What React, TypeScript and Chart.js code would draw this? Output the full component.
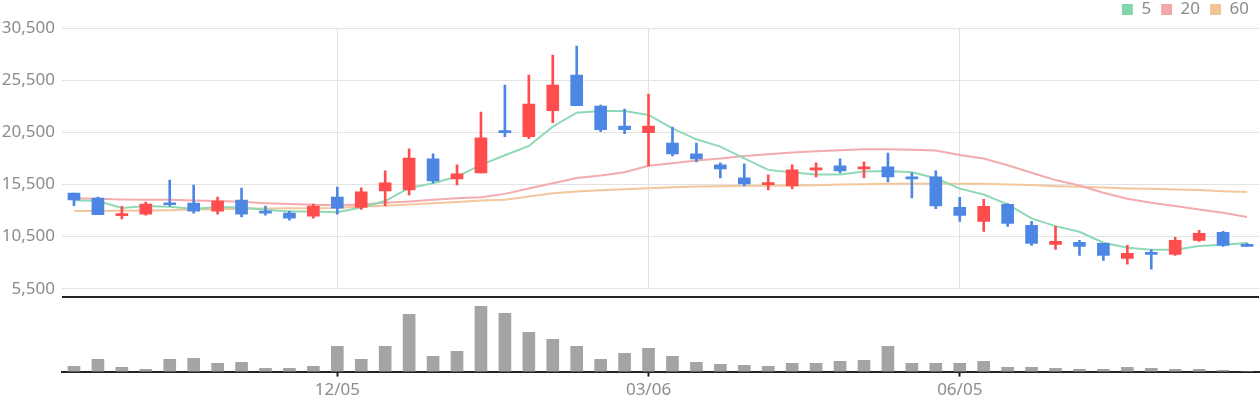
import React, { useEffect, useRef } from "react";
import { Chart, registerables } from "chart.js";

Chart.register(...registerables);

// ---- data ----
const categories = [
  "09/19", "09/26", "10/03", "10/10", "10/17", "10/24", "10/31", "11/07", "11/14", "11/21",
  "11/28", "12/05", "12/12", "12/19", "12/26", "01/02", "01/09", "01/16", "01/23", "01/30",
  "02/06", "02/13", "02/20", "02/27", "03/06", "03/13", "03/20", "03/27", "04/03", "04/10",
  "04/17", "04/24", "05/01", "05/08", "05/15", "05/22", "05/29", "06/05", "06/12", "06/19",
  "06/26", "07/03", "07/10", "07/17", "07/24", "07/31", "08/07", "08/14", "08/21", "08/28",
];
const tickLabels = ["12/05", "03/06", "06/05"];

const opens = [
  14670, 14190, 12520, 12660, 13700, 13710, 12950, 14000, 12950, 12760,
  12470, 14290, 13290, 14890, 14980, 17950, 16040, 16610, 20660, 20090,
  22570, 25990, 23020, 21110, 20470, 19480, 18430, 17380, 16130, 15490,
  15370, 16900, 17280, 16990, 17180, 16230, 16230, 13300, 11960, 13590,
  11580, 9760, 9950, 9860, 8420, 8990, 8800, 10140, 10910, 9760,
];
const highs = [
  14670, 14290, 13400, 13810, 15920, 15440, 14290, 15150, 13430, 12950,
  13620, 15250, 15170, 16800, 18910, 18430, 17380, 22450, 25030, 25990,
  27900, 28760, 23120, 22730, 24170, 21010, 19480, 17570, 17470, 16420,
  17380, 17570, 17950, 17660, 18520, 16610, 16800, 14260, 14070, 13680,
  11960, 11480, 10140, 9860, 9660, 9260, 10430, 11100, 11000, 9860,
];
const lows = [
  13460, 12600, 12210, 12570, 13430, 12760, 12660, 12380, 12570, 12090,
  12280, 12660, 13100, 13480, 14500, 15650, 15460, 16610, 20090, 19890,
  21430, 23050, 20560, 20370, 17280, 18240, 17660, 16130, 15370, 14980,
  15080, 16230, 16610, 16130, 15750, 14220, 13170, 11960, 11000, 11480,
  9660, 9280, 8710, 8230, 7850, 7370, 8710, 10050, 9570, 9570,
];
const closes = [
  14030, 12600, 12600, 13620, 13560, 12950, 13910, 12660, 12760, 12280,
  13430, 13240, 14790, 15650, 18040, 15840, 16510, 19960, 20470, 23210,
  25030, 23050, 20760, 20760, 21110, 18430, 17950, 16990, 15560, 15690,
  16900, 17090, 16800, 17180, 16230, 16040, 13450, 12530, 13400, 11770,
  9860, 10050, 9570, 8710, 8900, 8800, 10140, 10810, 9660, 9570,
];
const ma5 = [
  13980, 13920, 13240, 13430, 13370, 13150, 13350, 13300, 13080, 12900,
  12900, 12850, 13290, 13910, 15170, 15620, 16260, 17380, 18300, 19190,
  21040, 22380, 22540, 22540, 22170, 20880, 19830, 19130, 18010, 16900,
  16640, 16450, 16450, 16740, 16800, 16670, 16100, 15100, 14540, 13590,
  12250, 11510, 10970, 9920, 9440, 9250, 9250, 9600, 9730, 9890,
];
const ma20 = [
  14190, 14130, 14070, 14030, 14030, 13970, 13910, 13840, 13710, 13620,
  13560, 13520, 13580, 13740, 13870, 14030, 14190, 14280, 14600, 15110,
  15620, 16130, 16350, 16670, 17290, 17530, 17790, 17980, 18240, 18400,
  18560, 18680, 18780, 18870, 18870, 18840, 18750, 18320, 17990, 17350,
  16620, 15920, 15400, 14700, 14130, 13750, 13430, 13110, 12790, 12380,
];
const ma60 = [
  12950, 12960, 12980, 13010, 13040, 13100, 13130, 13180, 13200, 13220,
  13230, 13240, 13390, 13450, 13580, 13710, 13830, 13960, 14030, 14340,
  14660, 14820, 14950, 15050, 15150, 15240, 15300, 15330, 15370, 15370,
  15400, 15430, 15490, 15520, 15560, 15560, 15590, 15570, 15560, 15500,
  15440, 15340, 15280, 15210, 15120, 15080, 15020, 14960, 14860, 14770,
];
const volumes = [
  53000, 123000, 43000, 23000, 123000, 133000, 83000, 93000, 33000, 33000,
  53000, 253000, 123000, 253000, 573000, 153000, 203000, 653000, 583000, 393000,
  323000, 253000, 123000, 183000, 233000, 153000, 93000, 73000, 63000, 53000,
  83000, 83000, 103000, 113000, 253000, 83000, 83000, 83000, 103000, 43000,
  43000, 33000, 23000, 23000, 43000, 33000, 23000, 23000, 13000, 0,
];
const maLabels = ["5", "20", "60"];
const priceMin = 5500;
const priceMax = 30500;
const priceStep = 5000;
const volumeMax = 746000;

// ---- styles ----
const FONT = "'Noto Sans', sans-serif";
const TEXT = "#8c8c8c";
const UP = "#ff4d4d";
const DOWN = "#4e87e3";
const MA_LINE = ["#8fd9b6", "#f3abad", "#f3c69c"];
const MA_LEGEND = ["#82d6ad", "#f2a8a8", "#f0c596"];

function keepLabelTicks(scale: any) {
  scale.ticks = scale.ticks.filter((t: any) => tickLabels.includes(categories[t.value]));
}

const topBorder = {
  id: "topBorder",
  afterDraw(chart: any) {
    const { ctx, chartArea } = chart;
    ctx.save();
    ctx.strokeStyle = "#222";
    ctx.lineWidth = 2;
    ctx.beginPath();
    ctx.moveTo(chartArea.left, chartArea.top);
    ctx.lineTo(chartArea.right, chartArea.top);
    ctx.stroke();
    ctx.restore();
  },
};

export default function App() {
  const priceRef = useRef<HTMLCanvasElement>(null);
  const volRef = useRef<HTMLCanvasElement>(null);

  useEffect(() => {
    const candleColors = closes.map((c, i) => (c >= opens[i] ? UP : DOWN));
    const maSeries = [ma5, ma20, ma60];

    const price = new Chart(priceRef.current as HTMLCanvasElement, {
      type: "bar",
      data: {
        labels: categories,
        datasets: [
          ...maSeries.map((s, k) => ({
            type: "line" as const,
            label: maLabels[k],
            data: s,
            borderColor: MA_LINE[k],
            backgroundColor: MA_LEGEND[k],
            borderWidth: 2,
            pointRadius: 0,
            tension: 0,
            order: 2,
          })),
          {
            type: "bar" as const,
            label: "wick",
            data: lows.map((l, i) => [l, highs[i]]),
            backgroundColor: candleColors,
            barThickness: 2,
            grouped: false,
            order: 1,
          },
          {
            type: "bar" as const,
            label: "body",
            data: opens.map((o, i) => [o, closes[i]]),
            backgroundColor: candleColors,
            barThickness: 12,
            minBarLength: 2,
            grouped: false,
            order: 0,
          },
        ] as any,
      },
      options: {
        animation: false,
        responsive: true,
        maintainAspectRatio: false,
        layout: { padding: { top: -9, right: 1, left: 0, bottom: 0 } },
        plugins: {
          tooltip: { enabled: false },
          legend: {
            position: "top",
            align: "end",
            labels: {
              boxWidth: 11,
              boxHeight: 11,
              padding: 10,
              color: TEXT,
              font: { family: FONT, size: 17 },
              generateLabels: (chart: any) =>
                (Chart.defaults.plugins.legend.labels.generateLabels as any)(chart)
                  .filter((l: any) => maLabels.includes(l.text))
                  .map((l: any) => ({ ...l, lineWidth: 0 })),
            },
          },
        },
        scales: {
          x: {
            offset: true,
            grid: { color: "#e0e0e0", offset: false, drawTicks: false },
            border: { display: false },
            ticks: { display: false, autoSkip: false },
            afterBuildTicks: keepLabelTicks,
          },
          y: {
            min: priceMin,
            max: priceMax,
            ticks: {
              stepSize: priceStep,
              padding: 7,
              color: TEXT,
              font: { family: FONT, size: 17 },
              callback: (v: any) => Number(v).toLocaleString("en-US"),
            },
            grid: { color: "#e3e3e3", drawTicks: false },
            border: { display: false },
            afterFit: (s: any) => {
              s.width = 62;
            },
          },
        },
      } as any,
    });

    const vol = new Chart(volRef.current as HTMLCanvasElement, {
      type: "bar",
      data: {
        labels: categories,
        datasets: [
          {
            label: "vol",
            data: volumes,
            backgroundColor: "#a4a4a4",
            barThickness: 12,
          },
        ],
      },
      options: {
        animation: false,
        responsive: true,
        maintainAspectRatio: false,
        layout: { padding: { top: 7, left: 62, right: 1, bottom: 0 } },
        plugins: { legend: { display: false }, tooltip: { enabled: false } },
        scales: {
          x: {
            offset: true,
            grid: {
              display: true,
              drawOnChartArea: false,
              drawTicks: true,
              tickLength: 5,
              tickColor: "#222",
              tickWidth: 2,
              offset: false,
            },
            border: { display: true, color: "#222", width: 2 },
            ticks: {
              autoSkip: false,
              maxRotation: 0,
              color: TEXT,
              font: { family: FONT, size: 17 },
              padding: 3,
            },
            afterBuildTicks: keepLabelTicks,
          },
          y: { display: false, min: 0, max: volumeMax },
        },
      } as any,
      plugins: [topBorder],
    });

    return () => {
      price.destroy();
      vol.destroy();
    };
  }, []);

  return (
    <div
      style={{
        position: "absolute",
        left: 0,
        top: 0,
        width: 1260,
        height: 400,
        overflow: "hidden",
        background: "#fff",
      }}
    >
      <div style={{ position: "absolute", left: 0, top: 0, width: 1260, height: 306 }}>
        <canvas ref={priceRef} />
      </div>
      <div style={{ position: "absolute", left: 0, top: 290, width: 1260, height: 113 }}>
        <canvas ref={volRef} />
      </div>
    </div>
  );
}
